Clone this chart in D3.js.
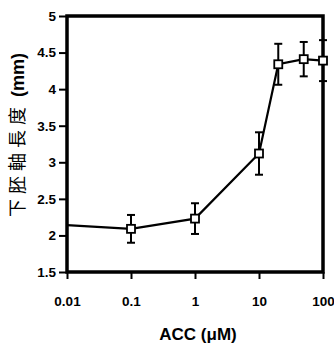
<!DOCTYPE html>
<html>
<head>
<meta charset="utf-8">
<script src="https://cdn.jsdelivr.net/npm/d3@7"></script>
<style>
  html, body { margin: 0; padding: 0; background: #fff; }
  svg { display: block; }
</style>
</head>
<body>
<svg id="chart" width="334" height="352"></svg>
<script>
// ---- data ----
const concentrations = [0.1, 1, 10, 20, 50, 100];          // ACC (μM)
const hypocotylLength = [2.09, 2.23, 3.12, 4.34, 4.41, 4.39]; // mm
const errors = [0.19, 0.21, 0.29, 0.28, 0.235, 0.28];
const controlConc = 0.01;      // control plotted at the left axis
const controlLength = 2.14;
const xTicks = [0.01, 0.1, 1, 10, 100];
const xTickLabels = ["0.01", "0.1", "1", "10", "100"];
const yTicks = [1.5, 2, 2.5, 3, 3.5, 4, 4.5, 5];
const yTickLabels = ["1.5", "2", "2.5", "3", "3.5", "4", "4.5", "5"];

(function () {
const svg = d3.select("#chart");
const mLeft = 67, mRight = 323, mTop = 16, mBottom = 272;

const x = d3.scaleLog().domain([0.01, 100]).range([mLeft, mRight]);
const y = d3.scaleLinear().domain([1.5, 5]).range([mBottom, mTop]);

const font = "'Liberation Sans', Arial, Helvetica, sans-serif";

// axes
const yAxis = d3.axisLeft(y).tickValues(yTicks)
  .tickFormat((d, i) => yTickLabels[i]).tickSize(8).tickPadding(3);
const gy = svg.append("g").attr("transform", `translate(${mLeft},0)`).call(yAxis);
gy.select(".domain").remove();
gy.selectAll(".tick line").attr("stroke", "#000").attr("stroke-width", 2);
gy.selectAll(".tick text").attr("font-family", font).attr("font-weight", "bold")
  .attr("font-size", "13.5px").attr("fill", "#000");

const xAxis = d3.axisBottom(x).tickValues(xTicks)
  .tickFormat((d, i) => xTickLabels[i]).tickSize(7).tickPadding(17);
const gx = svg.append("g").attr("transform", `translate(0,${mBottom})`).call(xAxis);
gx.select(".domain").remove();
gx.selectAll(".tick line").attr("stroke", "#000").attr("stroke-width", 2);
gx.selectAll(".tick text").attr("font-family", font).attr("font-weight", "bold")
  .attr("font-size", "13.5px").attr("fill", "#000");

// frame
svg.append("rect")
  .attr("x", mLeft).attr("y", y(5))
  .attr("width", mRight - mLeft).attr("height", mBottom - y(5))
  .attr("fill", "none").attr("stroke", "#000").attr("stroke-width", 3.5);

const pts = concentrations.map((c, i) => ({c, v: hypocotylLength[i], e: errors[i]}));

// error bars
const capW = 4;
const eb = svg.append("g").attr("stroke", "#000").attr("stroke-width", 2);
pts.forEach(p => {
  const cx = x(p.c);
  eb.append("line").attr("x1", cx).attr("x2", cx)
    .attr("y1", y(p.v + p.e)).attr("y2", y(p.v - p.e));
  eb.append("line").attr("x1", cx - capW).attr("x2", cx + capW)
    .attr("y1", y(p.v + p.e)).attr("y2", y(p.v + p.e));
  eb.append("line").attr("x1", cx - capW).attr("x2", cx + capW)
    .attr("y1", y(p.v - p.e)).attr("y2", y(p.v - p.e));
});

// line
const lineData = [{c: controlConc, v: controlLength}].concat(pts);
svg.append("path")
  .datum(lineData)
  .attr("fill", "none").attr("stroke", "#000").attr("stroke-width", 2.2)
  .attr("d", d3.line().x(d => x(d.c)).y(d => y(d.v)));

// markers
const ms = 8;
svg.append("g").selectAll("rect").data(pts).join("rect")
  .attr("x", d => x(d.c) - ms / 2).attr("y", d => y(d.v) - ms / 2)
  .attr("width", ms).attr("height", ms)
  .attr("fill", "#fff").attr("stroke", "#000").attr("stroke-width", 1.8);

// x title
svg.append("text")
  .attr("x", 198).attr("y", 340)
  .attr("text-anchor", "middle")
  .attr("font-family", font).attr("font-weight", "bold").attr("font-size", "17px")
  .text("ACC (μM)");

// y title
const yt = svg.append("text")
  .attr("transform", "translate(24,135) rotate(-90)")
  .attr("text-anchor", "middle")
  .attr("font-size", "18px");
yt.append("tspan")
  .attr("font-family", "'Noto Sans CJK TC', 'Noto Sans CJK JP', sans-serif")
  .attr("font-weight", "normal")
  .attr("letter-spacing", "5px")
  .text("下胚軸長度");
yt.append("tspan")
  .attr("font-family", font).attr("font-weight", "bold")
  .text(" (mm)");
})();
</script>
</body>
</html>
